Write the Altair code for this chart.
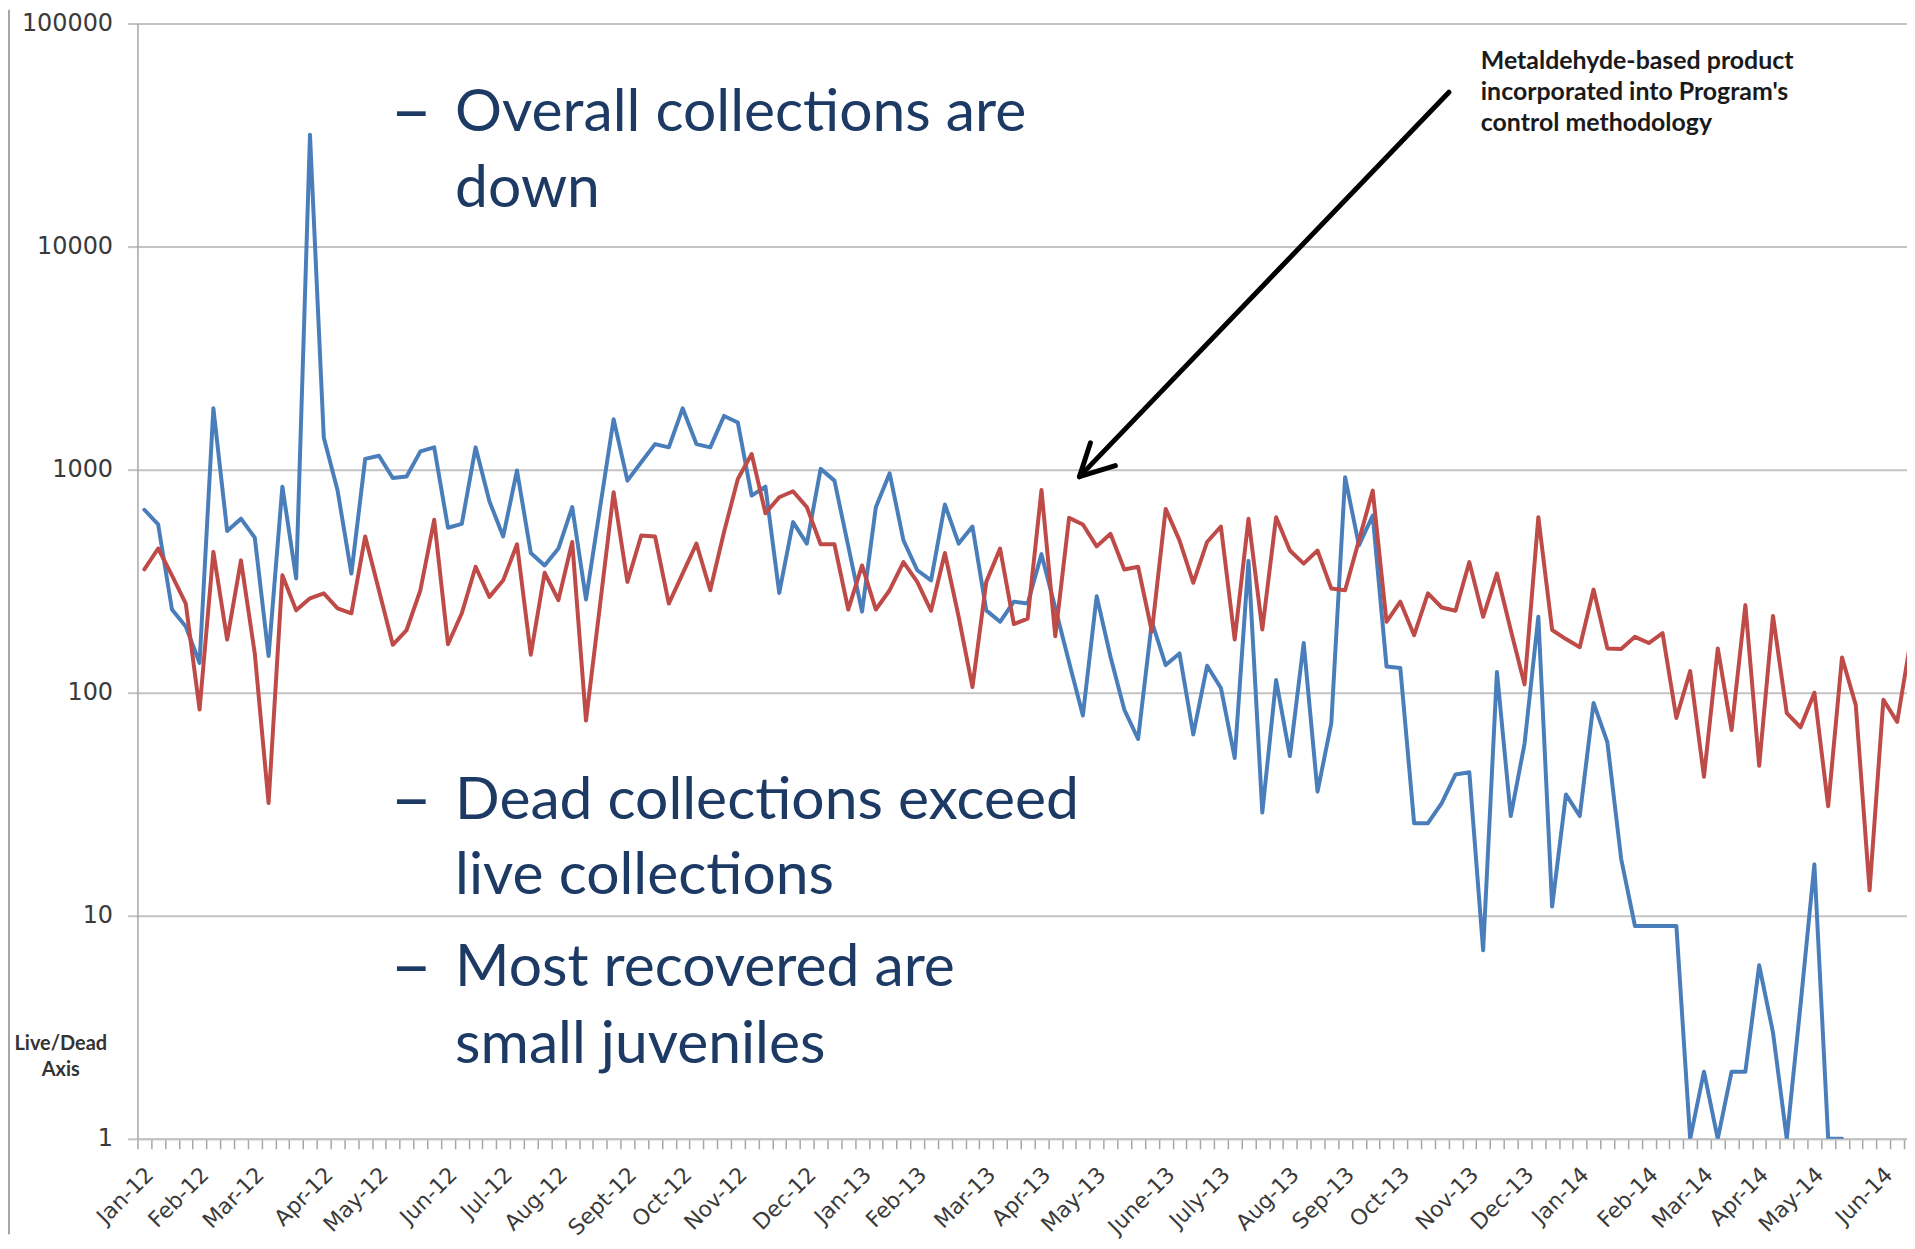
import altair as alt
import pandas as pd

# ---- data (weekly collections) ----
live_counts = [661, 568, 236, 198, 136, 1884, 531, 603, 496, 146,
               839, 325, 31700, 1393, 806, 342, 1117, 1155, 918, 931,
               1208, 1259, 549, 571, 1259, 722, 502, 991, 423, 372,
               443, 679, 262, 664, 1683, 893, 1079, 1302, 1259, 1884,
               1302, 1259, 1741, 1626, 765, 839, 280, 582, 466, 1008,
               893, 454, 231, 679, 963, 482, 354, 319, 698, 466,
               556, 234, 208, 256, 251, 418, 240, 137, 79, 271,
               145, 84, 62, 208, 133, 150, 65, 132, 105, 51,
               390, 29, 114, 52, 167, 36, 73, 925, 458, 623,
               131, 129, 26, 26, 32, 43, 44, 7, 124, 28,
               59, 219, 11, 35, 28, 90, 60, 18, 9, 9,
               9, 9, 1, 2, 1, 2, 2, 6, 3, 1,
               4, 17, 1, 1]

dead_counts = [357, 443, 336, 251, 84, 428, 173, 392, 150, 32,
               336, 234, 265, 279, 239, 227, 502, 287, 164, 191,
               288, 596, 165, 227, 367, 269, 319, 463, 148, 345,
               260, 474, 75, 243, 792, 314, 507, 502, 251, 342,
               466, 288, 525, 908, 1175, 638, 752, 800, 679, 463,
               463, 236, 372, 236, 288, 385, 314, 233, 423, 219,
               106, 314, 443, 203, 215, 811, 179, 608, 568, 453,
               516, 357, 367, 188, 667, 482, 311, 474, 556, 173,
               603, 192, 612, 434, 379, 434, 293, 288, 482, 806,
               208, 256, 181, 279, 241, 233, 385, 219, 342, 191,
               109, 612, 191, 174, 160, 290, 158, 157, 178, 167,
               185, 77, 125, 42, 158, 68, 247, 47, 221, 81,
               70, 100, 31, 144, 88, 13, 93, 74, 175]

month_labels = ["Jan-12", "Feb-12", "Mar-12", "Apr-12", "May-12", "Jun-12",
                "Jul-12", "Aug-12", "Sept-12", "Oct-12", "Nov-12", "Dec-12",
                "Jan-13", "Feb-13", "Mar-13", "Apr-13", "May-13", "June-13",
                "July-13", "Aug-13", "Sep-13", "Oct-13", "Nov-13", "Dec-13",
                "Jan-14", "Feb-14", "Mar-14", "Apr-14", "May-14", "Jun-14"]
month_weeks = [0, 4, 8, 13, 17, 22, 26, 30, 35, 39, 43, 48, 52, 56, 61, 65,
               69, 74, 78, 83, 87, 91, 96, 100, 104, 109, 113, 117, 121, 126]

y_ticks = [1, 10, 100, 1000, 10000, 100000]

ZWNJ = "\u200c"  # keeps "ti" from forming a ligature
bullet_lines = ["Overall collec" + ZWNJ + "tions are", "down",
                "Dead collec" + ZWNJ + "tions exceed", "live collec" + ZWNJ + "tions",
                "Most recovered are", "small juveniles"]
note_lines = ["Metaldehyde-based product", "incorporated into Program's",
              "control methodology"]
axis_note_lines = ["Live/Dead", "Axis"]

# ---- styles ----
BLUE = "#4a7ebb"
RED = "#be4b48"
NAVY = "#1c3a64"
GRID = "#c3c3c3"
LABEL = "#3a3a3a"

W, H = 1777, 1120
WEEK_PX = 13.86
x_domain = [-0.5, -0.5 + W / WEEK_PX]

live_df = pd.DataFrame({"week": list(range(len(live_counts))), "count": live_counts})
dead_df = pd.DataFrame({"week": list(range(len(dead_counts))), "count": dead_counts})

x_scale = alt.Scale(domain=x_domain, nice=False, zero=False)
y_scale = alt.Scale(type="log", domain=[1, 100000], nice=False)

tick_vals = [k + 0.5 for k in range(-1, 128)]
b_str = ",".join(str(w - 0.5) for w in month_weeks)
l_str = ",".join("'" + s + "'" for s in month_labels)
label_expr = (f"indexof([{b_str}], datum.value) >= 0 ? "
              f"[{l_str}][indexof([{b_str}], datum.value)] : ''")

x_axis = alt.Axis(values=tick_vals, labelExpr=label_expr, labelAngle=315,
                  labelAlign="right", labelBaseline="middle", labelOffset=12,
                  labelPadding=22, labelFont="DejaVu Sans", labelFontSize=22,
                  labelColor=LABEL, labelOverlap=False, labelFlush=False,
                  labelBound=False, tickSize=10, tickColor="#a6a6a6",
                  tickWidth=1.5, domainColor=GRID, domainWidth=2, grid=False,
                  title="")
y_axis = alt.Axis(values=y_ticks, format="d", grid=True, gridColor=GRID,
                  gridWidth=2, tickSize=10, tickColor=GRID, tickWidth=2,
                  domainColor="#a6a6a6", domainWidth=1.5,
                  labelFont="DejaVu Sans", labelFontSize=24, labelColor=LABEL,
                  labelPadding=15, title="")


def series_line(df, color):
    return alt.Chart(df).mark_line(color=color, strokeWidth=4, clip=True,
                                   strokeJoin="round", strokeCap="round").encode(
        x=alt.X("week:Q", scale=x_scale, axis=x_axis),
        y=alt.Y("count:Q", scale=y_scale, axis=y_axis),
    )


def text_layer(s, px, py, size, color, weight="normal", font="Lato", align="left"):
    return alt.Chart(pd.DataFrame({"t": [s]})).mark_text(
        align=align, baseline="alphabetic", font=font, fontSize=size,
        fontWeight=weight, color=color).encode(
        text="t:N", x=alt.value(px), y=alt.value(py))


def seg(x1, y1, x2, y2, w, color):
    return alt.Chart(pd.DataFrame({"k": [0]})).mark_rule(
        color=color, strokeWidth=w, strokeCap="round").encode(
        x=alt.value(x1), y=alt.value(y1), x2=alt.value(x2), y2=alt.value(y2))


layers = [seg(-129, -13, -129, 1215, 2, "#a6a6a6"),
          series_line(live_df, BLUE),
          series_line(dead_df, RED)]

# bullet text
bullet_base = [108, 184, 799, 874, 967, 1044]
for line, yb in zip(bullet_lines, bullet_base):
    layers.append(text_layer(line, 319, yb, 59, NAVY))
for yb in [112, 803, 971]:
    layers.append(text_layer("\u2013", 254, yb, 72, NAVY))

# annotation text
for line, yb in zip(note_lines, [46, 77, 108]):
    layers.append(text_layer(line, 1349, yb, 25, "#1a1a1a", weight="bold"))

# live/dead axis note
for line, yb in zip(axis_note_lines, [1031, 1057]):
    layers.append(text_layer(line, -77, yb, 20, "#333333", weight="bold", align="center"))

# arrow
layers.append(seg(1317, 69, 946, 455, 5, "black"))
layers.append(seg(946, 455, 957, 421, 5, "black"))
layers.append(seg(946, 455, 982, 444, 5, "black"))

chart = alt.layer(*layers).properties(
    width=W, height=H,
    autosize=alt.AutoSizeParams(type="none"),
    padding={"left": 130, "top": 13, "right": 0, "bottom": 100},
).configure_view(strokeWidth=0)

chart.save("out.html", embed_options={"renderer": "svg", "actions": False})
